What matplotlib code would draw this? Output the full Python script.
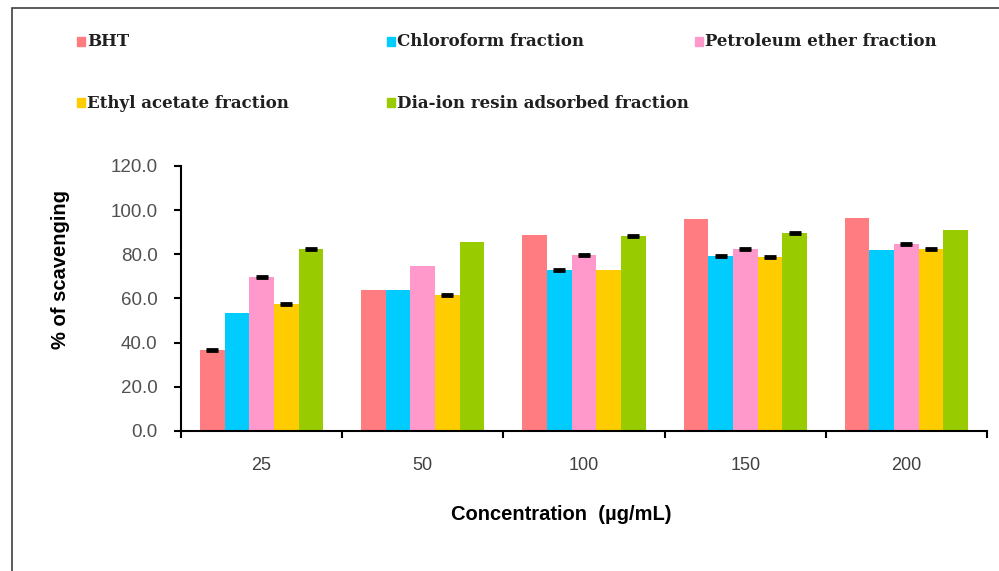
import numpy as np
import matplotlib
matplotlib.use("Agg")
import matplotlib.pyplot as plt
from matplotlib.patches import Rectangle

# data
concentrations = ["25", "50", "100", "150", "200"]
series_names = ["BHT", "Chloroform fraction", "Petroleum ether fraction",
                "Ethyl acetate fraction", "Dia-ion resin adsorbed fraction"]
bht = [36.8, 63.7, 88.8, 95.9, 96.3]
chloroform = [53.6, 63.7, 72.9, 79.3, 82.0]
pet_ether = [69.7, 74.9, 79.7, 82.4, 84.7]
ethyl_acetate = [57.4, 61.6, 72.9, 78.7, 82.4]
diaion = [82.4, 85.7, 88.3, 89.5, 91.0]
# small SD values, 0 where no cap is visible
bht_err = [0.4, 0.0, 0.0, 0.0, 0.0]
chloroform_err = [0.0, 0.0, 0.5, 0.4, 0.0]
pet_ether_err = [0.4, 0.0, 0.6, 0.5, 0.4]
ethyl_acetate_err = [0.4, 0.5, 0.0, 0.4, 0.5]
diaion_err = [0.4, 0.0, 0.4, 0.4, 0.0]

values = [bht, chloroform, pet_ether, ethyl_acetate, diaion]
errors = [bht_err, chloroform_err, pet_ether_err, ethyl_acetate_err, diaion_err]
colors = ["#FF7C80", "#00CCFF", "#FF99CC", "#FFCC00", "#99CC00"]

plt.rcParams["font.family"] = ["Liberation Sans", "DejaVu Sans"]

fig = plt.figure(figsize=(9.99, 5.71), dpi=100)
ax = fig.add_axes([0.1812, 0.2452, 0.988 - 0.1812, 0.7093 - 0.2452])

# outer frame (cropped chart area)
fig.patches.append(Rectangle((12 / 999, -0.05), 1.2, 1 - 8 / 571 + 0.05,
                             transform=fig.transFigure, fill=False,
                             edgecolor="#404040", linewidth=1.2))

x = np.arange(len(concentrations))
w = 0.153
for i, (vals, errs, c) in enumerate(zip(values, errors, colors)):
    pos = x + (i - 2) * w
    ax.bar(pos, vals, width=w, color=c, linewidth=0)
    errs = np.array(errs)
    m = errs > 0
    ax.errorbar(pos[m], np.array(vals)[m], yerr=errs[m], fmt="none",
                ecolor="black", elinewidth=1.5, capsize=4.5, capthick=2)

ax.set_ylim(0, 120)
ax.set_xlim(-0.5, len(concentrations) - 0.5)
ax.set_yticks(np.arange(0, 121, 20))
ax.set_yticklabels([f"{v:.1f}" for v in np.arange(0, 121, 20)])
ax.set_xticks(x)
ax.set_xticklabels(concentrations)
ax.set_xticks(np.arange(-0.5, len(concentrations)), minor=True)
ax.tick_params(axis="x", which="major", length=0, pad=19, labelsize=13,
               labelcolor="#404040")
ax.tick_params(axis="x", which="minor", length=5, width=1.5, direction="out")
ax.tick_params(axis="y", length=5, width=1.5, labelsize=13.5,
               labelcolor="#505050", pad=12)
for s in ["top", "right"]:
    ax.spines[s].set_visible(False)
for s in ["left", "bottom"]:
    ax.spines[s].set_linewidth(1.5)

ax.set_ylabel("% of scavenging", fontsize=14.5, fontweight="bold")
ax.yaxis.set_label_coords((60 - 181) / 806, (431 - 270) / 265)
ax.set_xlabel("Concentration  (\u00b5g/mL)", fontsize=14.5, fontweight="bold")
ax.xaxis.set_label_coords((561 - 181) / 806, -(515 - 431) / 265)
ax.xaxis.label.set_va("center")
ax.yaxis.label.set_va("center")

# legend laid out in two rows like the original
leg_pos = [(81, 42), (391, 42), (699, 42), (81, 103), (391, 103)]
for name, c, (px, py) in zip(series_names, colors, leg_pos):
    fig.patches.append(Rectangle(((px - 4) / 999, 1 - (py + 4) / 571),
                                 8 / 999, 9 / 571, transform=fig.transFigure,
                                 color=c))
    fig.text((px + 6) / 999, 1 - py / 571, name, fontsize=12,
             fontweight="bold", family="DejaVu Serif", va="center",
             ha="left", color="#202020")

fig.savefig("out.png", dpi=100)
